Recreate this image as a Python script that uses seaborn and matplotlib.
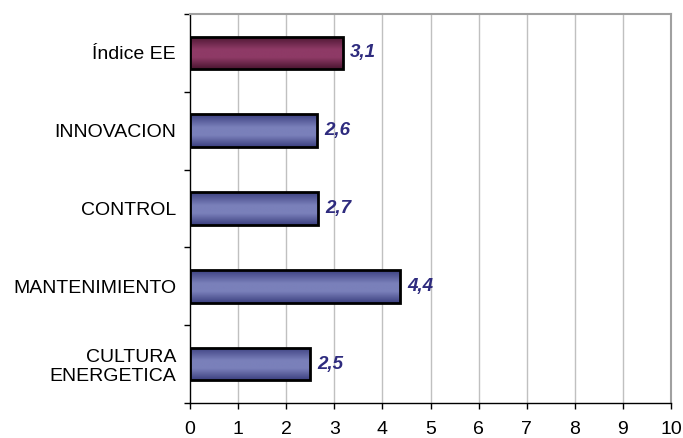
import matplotlib
matplotlib.use("Agg")
import matplotlib.pyplot as plt
import matplotlib.colors as mcolors
import numpy as np
import pandas as pd
import seaborn as sns

categories = ["Índice EE", "INNOVACION", "CONTROL", "MANTENIMIENTO", "CULTURA\nENERGETICA"]
values = [3.18, 2.65, 2.66, 4.37, 2.49]
value_labels = ["3,1", "2,6", "2,7", "4,4", "2,5"]
xticks = list(range(0, 11))

sns.set_theme(style="white")
plt.rcParams['font.family'] = ['Liberation Sans', 'DejaVu Sans']

df = pd.DataFrame({"cat": categories, "val": values})

fig = plt.figure(figsize=(6.83, 4.38), dpi=100)
ax = fig.add_axes([190/683, 35/438, (671-190)/683, (424-35)/438])

base_colors = ["#8B3762", "#7579B5", "#7579B5", "#7579B5", "#7579B5"]
sns.barplot(data=df, x="val", y="cat", orient="h", palette=base_colors, hue="cat",
            legend=False, width=0.42, edgecolor="black", linewidth=2.0, ax=ax, zorder=3)

ax.set_xlim(0, 10)
ax.set_ylim(4.5, -0.5)
ax.set_xticks(xticks)
ax.set_xticklabels([str(t) for t in xticks], fontsize=14)
ax.set_yticks(range(len(categories)))
ax.set_yticklabels(categories, fontsize=14, linespacing=1.15)
ax.set_xlabel("")
ax.set_ylabel("")

patches = list(ax.patches)
for i, p in enumerate(patches):
    if i == 0:
        cmap = mcolors.LinearSegmentedColormap.from_list(
            "m", [(0, "#4A1530"), (0.4, "#8E3A66"), (0.65, "#8E3A66"), (1, "#4A1530")])
    else:
        cmap = mcolors.LinearSegmentedColormap.from_list(
            "b", [(0, "#3C4080"), (0.4, "#7A80BA"), (0.65, "#7A80BA"), (1, "#3C4080")])
    x0, y0 = p.get_x(), p.get_y()
    w, h = p.get_width(), p.get_height()
    grad = np.linspace(0, 1, 100).reshape(-1, 1)
    im = ax.imshow(grad, extent=[x0, x0 + w, y0 + h, y0], aspect="auto", cmap=cmap,
                   zorder=3.5, origin="upper")
    im.set_clip_path(p)
    p.set_facecolor("none")
    p.set_zorder(4)

ax.set_xlim(0, 10)
ax.set_ylim(4.5, -0.5)

for i, (v, lab) in enumerate(zip(values, value_labels)):
    ax.text(v + 0.15, i, lab, va="center", ha="left", fontsize=13.5, fontweight="bold",
            fontstyle="italic", color="#2E2B7E", zorder=5)

for t in xticks[1:-1]:
    ax.axvline(t, color="#C0C0C0", linewidth=1.0, zorder=1)

for s in ["top", "right"]:
    ax.spines[s].set_color("#A0A0A0")
    ax.spines[s].set_linewidth(1.5)
for s in ["left", "bottom"]:
    ax.spines[s].set_color("black")
    ax.spines[s].set_linewidth(1.0)

ax.set_yticks([-0.5, 0.5, 1.5, 2.5, 3.5, 4.5], minor=True)
ax.tick_params(axis="y", which="major", length=0, pad=10)
ax.tick_params(axis="y", which="minor", length=4, width=1, color="black", direction="out", left=True)
ax.tick_params(axis="x", which="major", length=4, width=1, color="black", direction="out", bottom=True, pad=9)
for lbl in ax.get_xticklabels() + ax.get_yticklabels():
    lbl.set_color("black")

fig.savefig("out.png", dpi=100)
